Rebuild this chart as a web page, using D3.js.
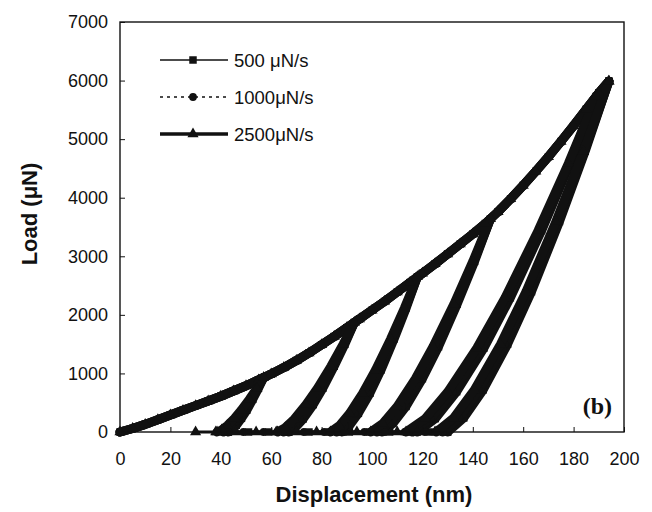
<!DOCTYPE html>
<html>
<head>
<meta charset="utf-8">
<script src="https://cdn.jsdelivr.net/npm/d3@7"></script>
<style>
  body { margin: 0; background: #fff; }
  text { font-family: "Liberation Sans", Arial, Helvetica, sans-serif; fill: #111; }
</style>
</head>
<body>
<svg id="chart"></svg>
<script>
// ---- data (displacement nm, load uN) ----
let seriesNames = ['500 \u03bcN/s', '1000\u03bcN/s', '2500\u03bcN/s']

let xTicks = [0, 20, 40, 60, 80, 100, 120, 140, 160, 180, 200]
let yTicks = [0, 1000, 2000, 3000, 4000, 5000, 6000, 7000]

// loading envelope, common to the three rates
let loading = [[0,0],[5,60],[10,130],[15,210],[20,290],[25,370],[30,450],[35,530],[40,610],[45,700],
  [50,790],[55,890],[60,990],[65,1100],[70,1220],[75,1350],[80,1490],[85,1630],[90,1780],[95,1930],
  [100,2080],[105,2230],[110,2390],[115,2550],[120,2710],[125,2870],[130,3040],[135,3210],[140,3380],
  [145,3560],[150,3760],[155,3980],[160,4210],[165,4450],[170,4700],[175,4960],[180,5230],[185,5510],
  [190,5790],[194,5990]]

// unload / reload branches of each cycle, one list per rate
let cycles500 = [
  [[57,930],[54.9,744],[52.7,558],[50.3,372],[48.2,233],[46.1,112],[44.4,37],[43,0]],
  [[93,1870],[89.2,1496],[85.0,1122],[80.5,748],[76.7,468],[72.7,224],[69.6,75],[67,0]],
  [[118,2650],[113.6,2120],[108.8,1590],[103.6,1060],[99.2,663],[94.6,318],[91,106],[88,0]],
  [[147,3640],[140.7,2912],[133.8,2184],[126.4,1456],[120,910],[113.5,437],[108.3,146],[104,0]],
  [[189,5730],[178.6,4584],[167.3,3438],[154.9,2292],[144.4,1433],[133.6,688],[125.1,229],[118,0]],
  [[194,5990],[184.6,4792],[174.4,3594],[163.3,2396],[153.8,1498],[144.1,719],[136.4,240],[130,0]]
]
let cycles1000 = [
  [[57,930],[54.6,744],[52.1,558],[49.3,372],[47.0,233],[44.5,112],[42.6,37],[41,0]],
  [[93,1870],[88.9,1496],[84.4,1122],[79.6,748],[75.4,468],[71.2,224],[67.8,75],[65,0]],
  [[118,2650],[113.3,2120],[108.2,1590],[102.6,1060],[97.9,663],[93.0,318],[89.2,106],[86,0]],
  [[147,3640],[140.4,2912],[133.2,2184],[125.4,1456],[118.7,910],[111.9,437],[106.5,146],[102,0]],
  [[189,5730],[178.3,4584],[166.7,3438],[154,2292],[143.2,1433],[132.1,688],[123.3,229],[116,0]],
  [[194,5990],[184.3,4792],[173.8,3594],[162.3,2396],[152.6,1498],[142.5,719],[134.6,240],[128,0]]
]
let cycles2500 = [
  [[57,930],[54.3,744],[51.3,558],[48.1,372],[45.4,233],[42.6,112],[40.4,37],[38.5,0]],
  [[93,1870],[88.5,1496],[83.7,1122],[78.4,748],[73.8,468],[69.2,224],[65.6,75],[62.5,0]],
  [[118,2650],[112.9,2120],[107.4,1590],[101.4,1060],[96.3,663],[91.1,318],[87.0,106],[83.5,0]],
  [[147,3640],[140,2912],[132.5,2184],[124.2,1456],[117.2,910],[110,437],[104.3,146],[99.5,0]],
  [[189,5730],[177.9,4584],[165.9,3438],[152.8,2292],[141.6,1433],[130.1,688],[121.1,229],[113.5,0]],
  [[194,5990],[183.9,4792],[173,3594],[161.1,2396],[151,1498],[140.6,719],[132.4,240],[125.5,0]]
]

// displacement readings taken at zero load
let zero500 = [43, 51, 59, 67, 75, 83, 91, 99, 107, 115, 123, 130]
let zero1000 = [41, 49, 57, 65, 73, 81, 89, 97, 105, 113, 121, 128]
let zero2500 = [30, 38, 46, 54, 62, 70, 78, 86, 94, 102, 110, 118, 125]

// ---- layout ----
let w = 652
let h = 512
let plotLeft = 120
let plotRight = 624
let plotTop = 22
let plotBottom = 432

let svg = d3.select('#chart').attr('width', w).attr('height', h)

let xScale = d3.scaleLinear().domain([0, 200]).range([plotLeft, plotRight])
let yScale = d3.scaleLinear().domain([0, 7000]).range([plotBottom, plotTop])

let line = d3.line()
  .x(d => xScale(d[0]))
  .y(d => yScale(d[1]))

let markers = [
  d3.symbol().type(d3.symbolSquare).size(56),
  d3.symbol().type(d3.symbolCircle).size(48),
  d3.symbol().type(d3.symbolTriangle).size(54)
]

let series = [
  { cycles: cycles500, zero: zero500 },
  { cycles: cycles1000, zero: zero1000 },
  { cycles: cycles2500, zero: zero2500 }
]

// ---- curves ----
let plot = svg.append('g')

series.forEach((s, i) => {
  let branches = [loading].concat(s.cycles)
  let zeroLine = s.zero.map(x => [x, 0])

  plot.append('path')
    .datum(zeroLine)
    .attr('d', line)
    .attr('fill', 'none')
    .attr('stroke', '#111')
    .attr('stroke-width', 3)

  branches.forEach(b => {
    plot.append('path')
      .datum(b)
      .attr('d', line)
      .attr('fill', 'none')
      .attr('stroke', '#111')
      .attr('stroke-width', 9)
      .attr('stroke-linejoin', 'round')
      .attr('stroke-linecap', 'round')
  })

  let pts = zeroLine.concat(...branches)
  plot.selectAll(null)
    .data(pts)
    .enter()
    .append('path')
    .attr('d', markers[i])
    .attr('transform', d => 'translate(' + xScale(d[0]) + ',' + yScale(d[1]) + ')')
    .attr('fill', '#111')
})

// ---- frame and axes ----
svg.append('rect')
  .attr('x', plotLeft)
  .attr('y', plotTop)
  .attr('width', plotRight - plotLeft)
  .attr('height', plotBottom - plotTop)
  .attr('fill', 'none')
  .attr('stroke', '#111')
  .attr('stroke-width', 1.4)

let xAxis = d3.axisBottom(xScale)
  .tickValues(xTicks)
  .tickSize(-5)
  .tickPadding(20)
  .tickFormat(d3.format('d'))

svg.append('g')
  .attr('transform', 'translate(0,' + plotBottom + ')')
  .call(xAxis)
  .call(g => g.select('.domain').remove())
  .call(g => g.selectAll('text').style('font-size', '18px').attr('fill', '#111'))
  .call(g => g.selectAll('line').attr('stroke', '#111'))

let yAxis = d3.axisLeft(yScale)
  .tickValues(yTicks)
  .tickSize(-5)
  .tickPadding(12)
  .tickFormat(d3.format('d'))

svg.append('g')
  .attr('transform', 'translate(' + plotLeft + ',0)')
  .call(yAxis)
  .call(g => g.select('.domain').remove())
  .call(g => g.selectAll('text').style('font-size', '18px').attr('fill', '#111'))
  .call(g => g.selectAll('line').attr('stroke', '#111'))

// axis titles
svg.append('text')
  .attr('x', 374)
  .attr('y', 502)
  .attr('text-anchor', 'middle')
  .style('font-size', '22px')
  .style('font-weight', 'bold')
  .text('Displacement (nm)')

svg.append('text')
  .attr('transform', 'translate(37,214) rotate(-90)')
  .attr('text-anchor', 'middle')
  .style('font-size', '22px')
  .style('font-weight', 'bold')
  .text('Load (\u03bcN)')

// panel label
svg.append('text')
  .attr('x', 612)
  .attr('y', 414)
  .attr('text-anchor', 'end')
  .style('font-family', '"Liberation Serif", "Times New Roman", serif')
  .style('font-size', '24px')
  .style('font-weight', 'bold')
  .text('(b)')

// ---- legend ----
let legendY = [60, 97, 134]
let legendDash = [null, '3,4', null]
let legendWidth = [1.3, 1.3, 3.5]

let legend = svg.append('g')
seriesNames.forEach((name, i) => {
  legend.append('line')
    .attr('x1', 160).attr('x2', 228)
    .attr('y1', legendY[i]).attr('y2', legendY[i])
    .attr('stroke', '#111')
    .attr('stroke-width', legendWidth[i])
    .attr('stroke-dasharray', legendDash[i])
  legend.append('path')
    .attr('d', markers[i])
    .attr('transform', 'translate(193,' + legendY[i] + ')')
    .attr('fill', '#111')
  legend.append('text')
    .attr('x', 234)
    .attr('y', legendY[i] + 6.5)
    .style('font-size', '18.5px')
    .text(name)
})
</script>
</body>
</html>
